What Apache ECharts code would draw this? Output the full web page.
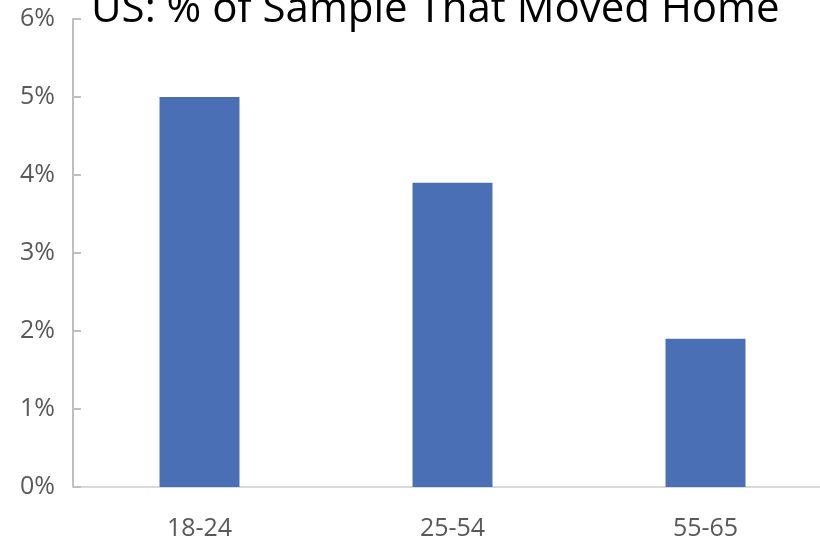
<!DOCTYPE html>
<html><head><meta charset="utf-8">
<script src="https://cdn.jsdelivr.net/npm/echarts@6/dist/echarts.min.js"></script>
<style>html,body{margin:0;padding:0;background:#fff}#c{width:820px;height:545px}</style>
</head><body><div id="c"></div>
<script>
const categories = ['18-24', '25-54', '55-65'];
const values = [5.0, 3.9, 1.9];
const titleText = 'US: % of Sample That Moved Home';
const font = '"Open Sans", sans-serif';
const chart = echarts.init(document.getElementById('c'));
chart.setOption({
  animation: false,
  title: { text: titleText, left: 86, top: -16, textStyle: { fontFamily: font, fontSize: 42, fontWeight: 'normal', color: '#000' } },
  grid: { left: 73, right: -12, top: 19, bottom: 58, outerBoundsMode: 'none', containLabel: false },
  xAxis: {
    type: 'category', data: categories,
    axisLine: { lineStyle: { color: '#d9d9d9', width: 2 } },
    axisTick: { show: false },
    axisLabel: { color: '#595959', fontSize: 25, fontFamily: font, margin: 29 }
  },
  yAxis: {
    type: 'value', min: 0, max: 6, interval: 1,
    splitLine: { show: false },
    axisLine: { show: true, lineStyle: { color: '#bfbfbf', width: 2 } },
    axisTick: { show: true, inside: true, length: 8, lineStyle: { color: '#bfbfbf', width: 2 } },
    axisLabel: { color: '#595959', fontSize: 25, fontFamily: font, margin: 18, formatter: v => v + '%' }
  },
  series: [{ type: 'bar', data: values, barWidth: '31.6%', itemStyle: { color: '#4A6FB5' } }]
});
</script></body></html>
